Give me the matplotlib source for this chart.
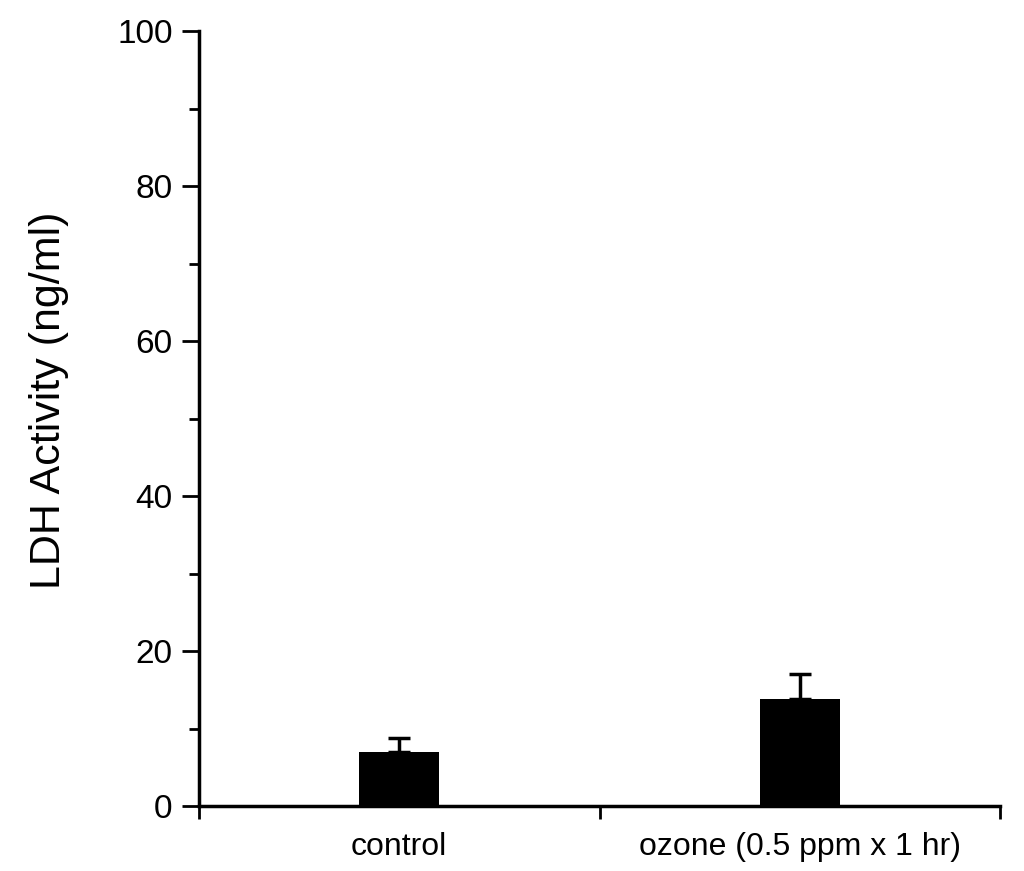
import numpy as np
import matplotlib.pyplot as plt

plt.rcParams['font.family'] = ['Liberation Sans', 'DejaVu Sans']

# data
groups = ['control', 'ozone (0.5 ppm x 1 hr)']
ldh = [7.0, 13.8]
ldh_err = [1.8, 3.2]

fig = plt.figure(figsize=(10.24, 8.71), dpi=100)
ax = fig.add_axes([0.1943, 0.0746, 0.7823, 0.8898])

xpos = np.arange(len(groups)) + 0.5
ax.bar(xpos, ldh, width=0.2, color='black', zorder=2)
ax.errorbar(xpos, ldh, yerr=[np.zeros(len(ldh)), ldh_err], fmt='none',
            ecolor='black', elinewidth=2.5, capsize=8, capthick=2.5, zorder=1)

ax.set_xlim(0, 2)
ax.set_ylim(0, 100)
ax.set_yticks(np.arange(0, 101, 20))
ax.set_yticks(np.arange(10, 100, 20), minor=True)
ax.set_xticks([0, 1, 2])
ax.set_xticklabels([])
ax.set_xticks(xpos, minor=True)
ax.set_xticklabels(groups, minor=True, fontsize=23)
ax.tick_params(axis='x', which='minor', length=0, pad=19)
ax.tick_params(axis='x', which='major', length=9, width=2, direction='out')
ax.tick_params(axis='y', which='major', length=12, width=2, labelsize=24, pad=7)
ax.tick_params(axis='y', which='minor', length=7, width=2)

for s in ['top', 'right']:
    ax.spines[s].set_visible(False)
for s in ['left', 'bottom']:
    ax.spines[s].set_linewidth(2.5)

ax.set_ylabel('LDH Activity (ng/ml)', fontsize=31)
ax.yaxis.set_label_coords(-0.162, 0.524)

fig.savefig('out.png', dpi=100)
